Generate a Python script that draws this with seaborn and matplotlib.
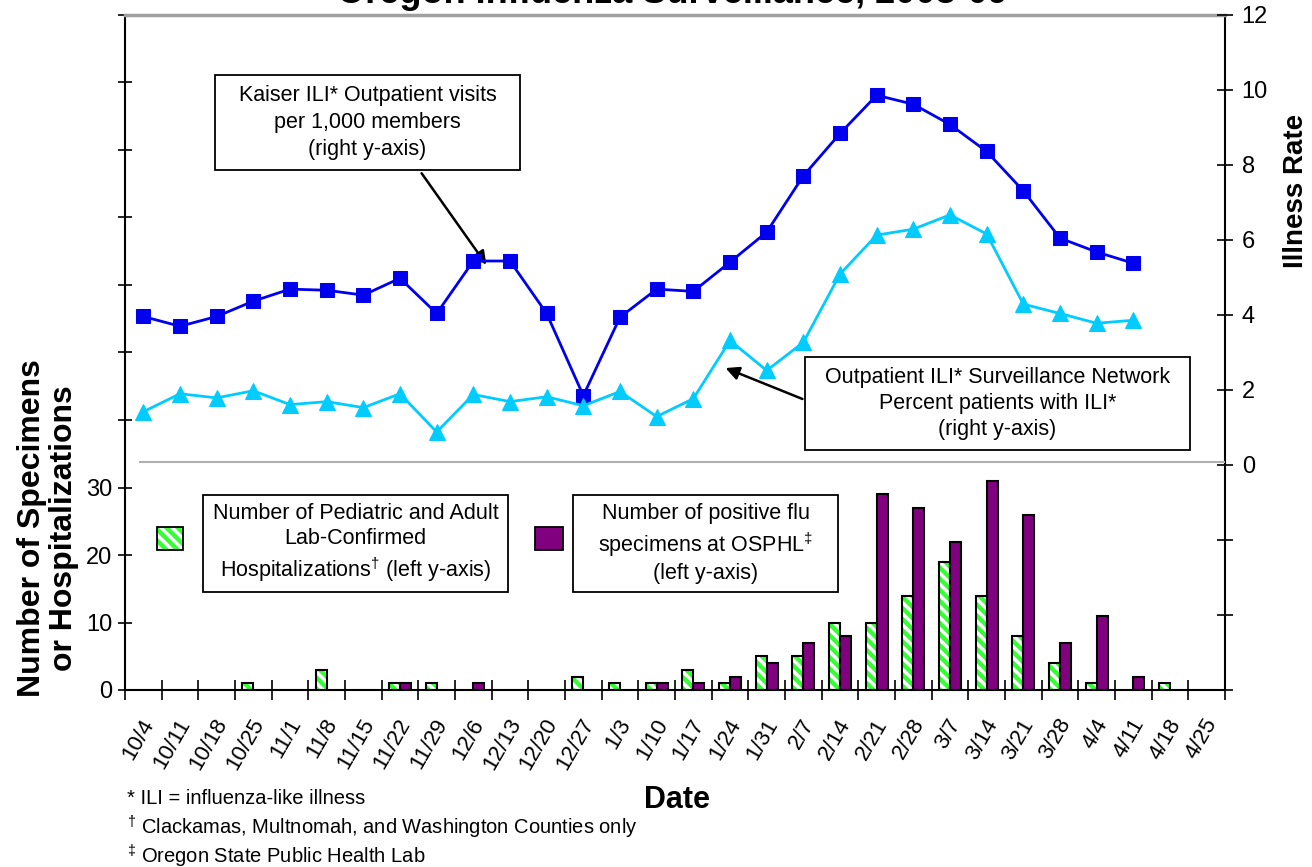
import numpy as np
import pandas as pd
import seaborn as sns
import matplotlib.pyplot as plt
import matplotlib.transforms as mtrans
from matplotlib.patches import Rectangle

# week labels (2008-09 season)
weeks = ['10/4', '10/11', '10/18', '10/25', '11/1', '11/8', '11/15', '11/22',
         '11/29', '12/6', '12/13', '12/20', '12/27', '1/3', '1/10', '1/17',
         '1/24', '1/31', '2/7', '2/14', '2/21', '2/28', '3/7', '3/14', '3/21',
         '3/28', '4/4', '4/11', '4/18', '4/25']

# right axis series (illness rate)
kaiser = [3.96, 3.70, 3.96, 4.37, 4.69, 4.66, 4.53, 4.98, 4.04, 5.44, 5.44,
          4.04, 1.85, 3.94, 4.69, 4.63, 5.41, 6.21, 7.71, 8.84, 9.86, 9.62,
          9.08, 8.36, 7.31, 6.05, 5.68, 5.38, np.nan, np.nan]
ili_net = [1.42, 1.90, 1.79, 1.98, 1.61, 1.69, 1.53, 1.90, 0.88, 1.88, 1.69,
           1.82, 1.58, 1.96, 1.29, 1.77, 3.32, 2.52, 3.27, 5.09, 6.13, 6.29,
           6.67, 6.16, 4.29, 4.04, 3.78, 3.86, np.nan, np.nan]

# left axis series (counts)
hosp = [0, 0, 0, 1, 0, 3, 0, 1, 1, 0, 0, 0, 2, 1, 1, 3, 1, 5, 5, 10, 10, 14,
        19, 14, 8, 4, 1, 0, 1, 0]
ospHL = [0, 0, 0, 0, 0, 0, 0, 1, 0, 1, 0, 0, 0, 0, 1, 1, 2, 4, 7, 8, 29, 27,
         22, 31, 26, 7, 11, 2, 0, 0]

plt.rcParams['font.family'] = ['Liberation Sans', 'DejaVu Sans']
plt.rcParams['mathtext.fontset'] = 'custom'
plt.rcParams['mathtext.rm'] = 'Liberation Sans'
plt.rcParams['hatch.linewidth'] = 2.5

W, H = 1312, 867


def fx(px):
    return px / W


def fy(py):
    return 1 - py / H


fig = plt.figure(figsize=(13.12, 8.67), dpi=100)
ax = fig.add_axes([fx(125), fy(690), 1100 / W, 675 / H])

bars = pd.DataFrame({
    'week': weeks * 2,
    'count': hosp + ospHL,
    'series': ['hosp'] * len(weeks) + ['osphl'] * len(weeks),
})
green_col = '#33ff33'
purple_col = '#800080'
sns.barplot(data=bars, x='week', y='count', hue='series', order=weeks,
            hue_order=['hosp', 'osphl'], palette=[green_col, purple_col],
            width=0.6, dodge=True, ax=ax, legend=False, zorder=2)

n = len(weeks)
for i, p in enumerate(ax.patches[:2 * n]):
    if p.get_height() == 0:
        p.set_visible(False)
        continue
    if i < n:
        # green with white stripes, then a black outline on top
        p.set_facecolor(green_col)
        p.set_edgecolor('white')
        p.set_hatch('\\\\\\')
        p.set_linewidth(0)
        ax.add_patch(Rectangle((p.get_x(), 0), p.get_width(), p.get_height(),
                               facecolor='none', edgecolor='black', lw=1.5, zorder=3))
    else:
        p.set_facecolor(purple_col)
        p.set_edgecolor('black')
        p.set_linewidth(1.5)

ax.set_xlim(-0.5, n - 0.5)
ax.set_ylim(0, 100)
ax.set_yticks(np.arange(0, 101, 10))
ax.set_yticklabels(['0', '10', '20', '30'] + [''] * 7)
ax.tick_params(axis='y', direction='inout', length=10, width=1.2, labelsize=17, pad=4)
ax.tick_params(axis='x', direction='inout', length=14, width=1.2)
ax.set_xticks(np.arange(n + 1) - 0.5, minor=False)
ax.set_xticklabels([''] * (n + 1))
ax.set_xticks(np.arange(n), minor=True)
ax.set_xticklabels(weeks, minor=True, rotation=60, ha='right', va='top',
                   rotation_mode='anchor', fontsize=16)
ax.tick_params(axis='x', which='minor', length=0, pad=0)
shift = mtrans.ScaledTranslation(-3 / 100, -25 / 100, fig.dpi_scale_trans)
for lab in ax.get_xticklabels(minor=True):
    lab.set_transform(lab.get_transform() + shift)
ax.set_xlabel('')
ax.set_ylabel('')
for side in ['left', 'right', 'bottom']:
    ax.spines[side].set_color('black')
    ax.spines[side].set_linewidth(1.5)
ax.spines['top'].set_color('#a0a0a0')
ax.spines['top'].set_linewidth(2.5)
ax.patch.set_visible(False)

ax2 = ax.twinx()
xs = np.arange(n)
sns.lineplot(x=xs, y=kaiser, ax=ax2, color='#0000ee', lw=2, marker='s',
             markersize=10, markeredgecolor='#0000ee')
sns.lineplot(x=xs, y=ili_net, ax=ax2, color='#00ccff', lw=2, marker='^',
             markersize=11, markeredgecolor='#00ccff')
ax2.set_ylim(-6, 12)
ax2.set_yticks(np.arange(-6, 13, 2))
ax2.set_yticklabels([''] * 3 + [str(v) for v in range(0, 13, 2)])
ax2.tick_params(axis='y', direction='inout', length=12, width=1.2, labelsize=17, pad=6)
ax2.axhline(0.08, xmin=0.014, xmax=1.0, color='#b0b0b0', lw=1.5, zorder=0)
ax2.set_xlim(-0.5, n - 0.5)
for s in ax2.spines.values():
    s.set_visible(False)

# axis titles
fig.text(fx(1296), fy(191), 'Illness Rate', rotation=90, fontsize=20,
         fontweight='bold', ha='center', va='center')
fig.text(fx(48), fy(528), 'Number of Specimens\nor Hospitalizations',
         rotation=90, fontsize=23, fontweight='bold', ha='center', va='center',
         linespacing=1.05)
fig.text(fx(677), fy(800), 'Date', fontsize=22, fontweight='bold',
         ha='center', va='center')
fig.text(fx(672), fy(3), 'Oregon Influenza Surveillance, 2008-09',
         fontsize=26, fontweight='bold', ha='center', va='baseline')


# annotation boxes, drawn at the reference positions
def text_box(x0, y0, x1, y1, txt, spacing):
    fig.patches.append(Rectangle((fx(x0), fy(y1)), (x1 - x0) / W, (y1 - y0) / H,
                                 transform=fig.transFigure, facecolor='white',
                                 edgecolor='black', lw=1.3, figure=fig, zorder=4))
    fig.text(fx((x0 + x1) / 2), fy((y0 + y1) / 2), txt, fontsize=15.5,
             ha='center', va='center', linespacing=spacing, zorder=5)


text_box(215, 75, 520, 170,
         'Kaiser ILI* Outpatient visits\nper 1,000 members\n(right y-axis)', 1.35)
text_box(805, 357, 1190, 450,
         'Outpatient ILI* Surveillance Network\nPercent patients with ILI*\n(right y-axis)', 1.3)
text_box(203, 495, 508, 592,
         'Number of Pediatric and Adult\nLab-Confirmed\nHospitalizations$^{\\dagger}$ (left y-axis)', 1.3)
text_box(573, 495, 838, 592,
         'Number of positive flu\nspecimens at OSPHL$^{\\ddagger}$\n(left y-axis)', 1.3)

arrow = dict(arrowstyle='-|>', color='black', lw=1.8, mutation_scale=20)
ax.annotate('', xy=(fx(488), fy(267)), xycoords='figure fraction',
            xytext=(fx(420), fy(171)), textcoords='figure fraction',
            arrowprops=arrow)
ax.annotate('', xy=(fx(723), fy(367)), xycoords='figure fraction',
            xytext=(fx(805), fy(400)), textcoords='figure fraction',
            arrowprops=arrow)

# legend swatches
fig.patches.append(Rectangle((fx(157), fy(550)), 26 / W, 23 / H,
                             transform=fig.transFigure, facecolor=green_col,
                             edgecolor='white', hatch='\\\\\\', lw=0, figure=fig))
fig.patches.append(Rectangle((fx(157), fy(550)), 26 / W, 23 / H,
                             transform=fig.transFigure, facecolor='none',
                             edgecolor='black', lw=1.3, figure=fig))
fig.patches.append(Rectangle((fx(535), fy(550)), 28 / W, 23 / H,
                             transform=fig.transFigure, facecolor=purple_col,
                             edgecolor='black', lw=1.3, figure=fig))

# footnotes
fig.text(fx(127), fy(798), '* ILI = influenza-like illness', fontsize=14.5,
         va='center')
fig.text(fx(127), fy(827),
         '$^{\\dagger}$ Clackamas, Multnomah, and Washington Counties only',
         fontsize=14.5, va='center')
fig.text(fx(127), fy(856), '$^{\\ddagger}$ Oregon State Public Health Lab',
         fontsize=14.5, va='center')

fig.savefig('out.png', dpi=100)
